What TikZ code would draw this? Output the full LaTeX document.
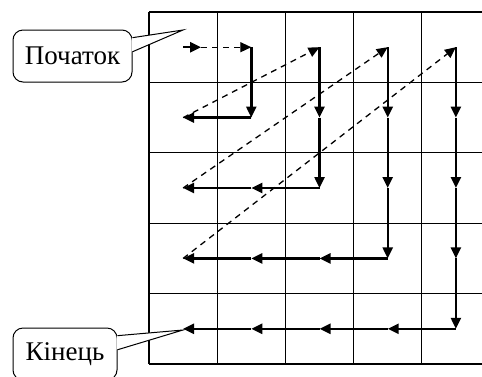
\documentclass[tikz,border=0pt]{standalone}
\usepackage{fontspec}
\setmainfont{Liberation Serif}
\usepackage{tikz}
\usetikzlibrary{arrows.meta,calc}

\tikzset{
  gridline/.style={line width=1.1pt},
  flow/.style={line width=2.4pt,-{Triangle[length=11pt,width=10pt]}},
  jump/.style={line width=1.3pt,dash pattern=on 6pt off 5pt,-{Triangle[length=11pt,width=10pt]}},
  callbox/.style={draw,line width=1pt,rounded corners=10pt,fill=white,
                  font=\fontsize{27}{32}\selectfont,inner sep=0pt}
}

\begin{document}
\begin{tikzpicture}[x=1pt,y=-1pt]
  \useasboundingbox (0,0) rectangle (482,376);
  \clip (0,0) rectangle (482,376);

  % table 5x5
  \foreach \j in {0,...,5}
    \draw[gridline] (149+68.2*\j,12) -- (149+68.2*\j,364);
  \foreach \i in {0,...,5}
    \draw[gridline] (149,12+70.4*\i) -- (490,12+70.4*\i);

  % cell centres
  \foreach \i in {1,...,5}
    \foreach \j in {1,...,5}
      \coordinate (c-\i-\j) at (149+68.2*\j-34.1,12+70.4*\i-35.2);

  % first step
  \coordinate (lead) at ($(c-1-1)+(18,0)$);
  \draw[flow] (c-1-1) -- (lead);
  \draw[jump] (lead) -- (c-1-2);

  % jumps back to the top row
  \foreach \k [evaluate=\k as \prev using int(\k-1)] in {3,4,5}
    \draw[jump] (c-\prev-1) -- (c-1-\k);

  % down the column, then left along the row
  \foreach \k [evaluate=\k as \last using int(\k-1)] in {2,...,5} {
    \foreach \i [evaluate=\i as \nxt using int(\i+1)] in {1,...,\last}
      \draw[flow] (c-\i-\k) -- (c-\nxt-\k);
    \foreach \j [evaluate=\j as \nxt using int(\j+1)] in {1,...,\last}
      \draw[flow] (c-\k-\nxt) -- (c-\k-\j);
  }

  % callouts
  \node[callbox,minimum width=119pt,minimum height=52pt] (start) at (72.5,56) {Початок};
  \coordinate (start tip) at (183,30);
  \coordinate (s1) at ($(start.north east)!0.154!(start.south east)$);
  \coordinate (s2) at ($(start.north east)!0.42!(start.south east)$);
  \fill[white] ([xshift=-1pt]s1) -- (start tip) -- ([xshift=-1pt]s2) -- cycle;
  \draw[line width=1pt] (s1) -- (start tip) -- (s2);

  \node[callbox,minimum width=104pt,minimum height=52pt] (finish) at (65,354) {Кінець};
  \coordinate (finish tip) at (183,330);
  \coordinate (f1) at ($(finish.north east)!0.154!(finish.south east)$);
  \coordinate (f2) at ($(finish.north east)!0.42!(finish.south east)$);
  \fill[white] ([xshift=-1pt]f1) -- (finish tip) -- ([xshift=-1pt]f2) -- cycle;
  \draw[line width=1pt] (f1) -- (finish tip) -- (f2);
\end{tikzpicture}
\end{document}
